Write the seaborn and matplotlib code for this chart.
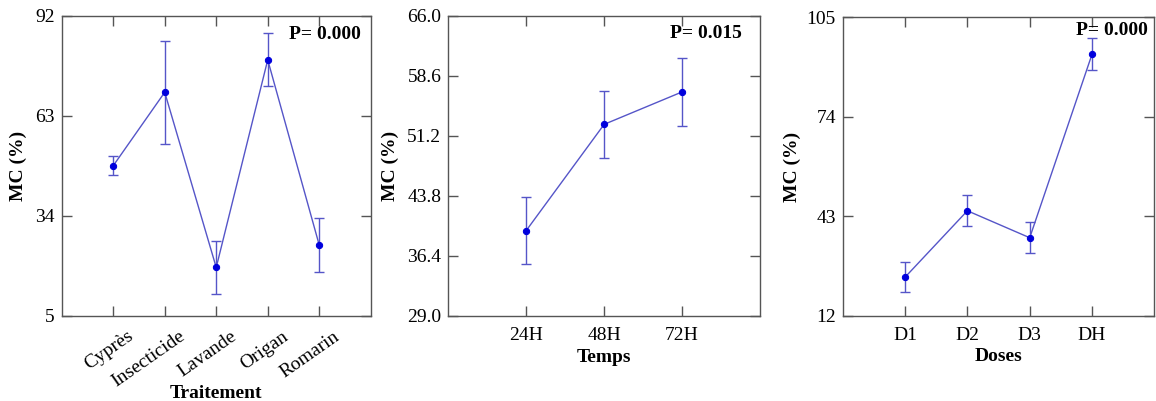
import matplotlib
matplotlib.use('Agg')
import matplotlib.pyplot as plt
import matplotlib.transforms as mtrans
import seaborn as sns
import pandas as pd

sns.set_style('ticks')
plt.rcParams['font.family'] = ['Liberation Serif', 'DejaVu Serif']
plt.rcParams['text.color'] = 'black'
plt.rcParams['axes.labelcolor'] = 'black'
plt.rcParams['xtick.color'] = 'black'
plt.rcParams['ytick.color'] = 'black'

# données (moyennes et demi-intervalles)
traitements = ['Cyprès', 'Insecticide', 'Lavande', 'Origan', 'Romarin']
mc_traitement = [48.5, 69.8, 19.0, 79.2, 25.5]
err_traitement = [2.8, 15.0, 7.8, 7.7, 7.8]

temps = ['24H', '48H', '72H']
mc_temps = [39.5, 52.6, 56.6]
err_temps = [4.15, 4.15, 4.15]

doses = ['D1', 'D2', 'D3', 'DH']
mc_doses = [24.0, 44.7, 36.3, 93.5]
err_doses = [4.75, 4.85, 4.8, 4.9]

line_col = '#5555c8'
point_col = '#0000dd'
spine_col = '#555555'

panels = [
    dict(cats=traitements, vals=mc_traitement, errs=err_traitement, xlabel='Traitement',
         yticks=[5, 34, 63, 92], yfmt='{:.0f}', xlim=(-1, 5), p='P= 0.000',
         ptxt=(0.968, 0.939), rect=[0.0534, 0.2127, 0.2673, 0.7481], rot=35,
         ylpad=6, xlpad=2),
    dict(cats=temps, vals=mc_temps, errs=err_temps, xlabel='Temps',
         yticks=[29.0, 36.4, 43.8, 51.2, 58.6, 66.0], yfmt='{:.1f}', xlim=(-1, 3), p='P= 0.015',
         ptxt=(0.941, 0.941), rect=[0.3878, 0.2127, 0.2696, 0.7481], rot=0,
         ylpad=6, xlpad=4),
    dict(cats=doses, vals=mc_doses, errs=err_doses, xlabel='Doses',
         yticks=[12, 43, 74, 105], yfmt='{:.0f}', xlim=(-1, 4), p='P= 0.000',
         ptxt=(0.979, 0.955), rect=[0.729, 0.2127, 0.2696, 0.7442], rot=0,
         ylpad=4, xlpad=3),
]

fig = plt.figure(figsize=(11.56, 4.01), dpi=100)

for pan in panels:
    ax = fig.add_axes(pan['rect'])
    df = pd.DataFrame({'cat': pan['cats'], 'mc': pan['vals']})
    pos = list(range(len(pan['cats'])))
    ax.errorbar(pos, pan['vals'], yerr=pan['errs'], fmt='none', ecolor=line_col,
                elinewidth=1, capsize=3.5, capthick=1, zorder=2)
    sns.pointplot(data=df, x='cat', y='mc', errorbar=None, color=line_col,
                  linewidth=1, markers='o', markersize=4.5, ax=ax, zorder=3)
    # points en bleu vif
    for ln in ax.lines:
        if ln.get_marker() == 'o':
            ln.set_markerfacecolor(point_col)
            ln.set_markeredgecolor(point_col)

    ax.set_xlim(*pan['xlim'])
    ax.set_ylim(pan['yticks'][0], pan['yticks'][-1])
    ax.set_yticks(pan['yticks'])
    ax.set_yticklabels([pan['yfmt'].format(v) for v in pan['yticks']])
    ax.set_xticks(pos)
    ax.tick_params(direction='in', length=7, width=1, top=True, right=True,
                   labelsize=14, color=spine_col)
    ax.tick_params(axis='y', pad=5)
    if pan['rot']:
        # étiquettes inclinées posées à la main (ancrage coin haut-droit)
        ax.set_xticklabels([])
        trans = mtrans.blended_transform_factory(ax.transData, ax.transAxes)
        trans = trans + mtrans.ScaledTranslation(0.14, -0.12, fig.dpi_scale_trans)
        for i, lab in enumerate(pan['cats']):
            ax.text(i, 0, lab, transform=trans, rotation=pan['rot'], ha='right',
                    va='top', rotation_mode='anchor', fontsize=14)
        ax.set_xlabel(pan['xlabel'], fontsize=14, fontweight='bold')
        ax.xaxis.set_label_coords(0.5, -0.232)
    else:
        ax.set_xticklabels(pan['cats'])
        ax.tick_params(axis='x', pad=8)
        ax.set_xlabel(pan['xlabel'], fontsize=14, fontweight='bold', labelpad=pan['xlpad'])
    ax.set_ylabel('MC (%)', fontsize=14, fontweight='bold', labelpad=pan['ylpad'])
    for s in ax.spines.values():
        s.set_visible(True)
        s.set_color(spine_col)
        s.set_linewidth(1)
    ax.text(pan['ptxt'][0], pan['ptxt'][1], pan['p'], transform=ax.transAxes,
            ha='right', va='center', fontsize=14, fontweight='bold')

fig.savefig('out.png', dpi=100)
